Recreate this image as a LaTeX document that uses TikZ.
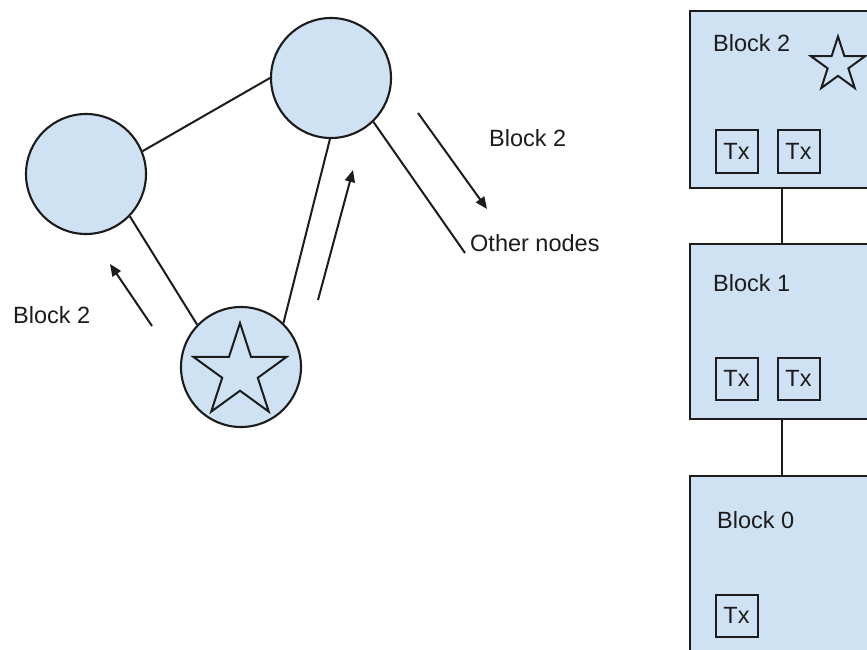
\documentclass[tikz,border=0pt]{standalone}
\usepackage{fontspec}
\setmainfont{Liberation Sans}
\usetikzlibrary{shapes.geometric,arrows.meta}
\definecolor{fillblue}{HTML}{CFE2F3}
\definecolor{ink}{HTML}{1C1C1C}
\begin{document}
\begin{tikzpicture}[x=1pt,y=-1pt,
  every node/.style={font=\fontsize{23.5}{27}\selectfont, text=ink},
  peer/.style={circle, draw=ink, line width=2.1pt, fill=fillblue, minimum size=120pt, inner sep=0pt},
  starshape/.style={star, star points=5, star point ratio=2.618, draw=ink, line width=2pt, inner sep=0pt},
  block/.style={rectangle, draw=ink, line width=2.1pt, fill=fillblue, anchor=north west, minimum width=230pt, inner sep=0pt},
  tx/.style={rectangle, draw=ink, line width=2pt, minimum size=42pt, inner sep=0pt},
  edge/.style={draw=ink, line width=2pt},
  arr/.style={draw=ink, line width=2pt, -{Triangle[length=12pt,width=10pt]}},
  lbl/.style={anchor=west, inner sep=0pt}
]
\clip (0,0) rectangle (867,650);
\fill[white] (0,0) rectangle (867,650);

% network
\node[peer] (l) at (86,174) {};
\node[peer] (t) at (331,78) {};
\node[peer] (s) at (241,367) {};
\node[starshape, minimum size=98pt] (ss) at (240,372) {};

\coordinate (other) at (465,253);
\draw[edge] (l.22) -- (t.180);
\draw[edge] (l.-44) -- (s.136);
\draw[edge] (t.-91) -- (s.46);
\draw[edge] (t.-46) -- (other);

\coordinate (a1s) at (152,326);
\coordinate (a1e) at (110,264);
\coordinate (a2s) at (318,300);
\coordinate (a2e) at (353,170);
\coordinate (a3s) at (418,113);
\coordinate (a3e) at (487,209);
\draw[arr] (a1s) -- (a1e);
\draw[arr] (a2s) -- (a2e);
\draw[arr] (a3s) -- (a3e);

\node[lbl] (lb1) at (13,315) {Block 2};
\node[lbl] (lb2) at (489,138) {Block 2};
\node[lbl] (lon) at (470,243) {Other nodes};

% chain
\node[block, minimum height=177pt] (b2) at (689,10) {};
\node[block, minimum height=175pt] (b1) at (689,243) {};
\node[block, minimum height=220pt] (b0) at (689,475) {};
\draw[edge] ([xshift=93pt]b2.south west) -- ([xshift=93pt]b1.north west);
\draw[edge] ([xshift=93pt]b1.south west) -- ([xshift=93pt]b0.north west);

\node[lbl] (b2l) at (713,43) {Block 2};
\node[lbl] (b1l) at (713,283) {Block 1};
\node[lbl] (b0l) at (717,520) {Block 0};

\node[starshape, minimum size=57pt] (bs) at (838,65) {};

\node[tx] (t21) at (736.5,151.5) {Tx};
\node[tx] (t22) at (798.5,151.5) {Tx};
\node[tx] (t11) at (736.5,378.5) {Tx};
\node[tx] (t12) at (798.5,378.5) {Tx};
\node[tx] (t01) at (736.5,615.5) {Tx};
\end{tikzpicture}
\end{document}
